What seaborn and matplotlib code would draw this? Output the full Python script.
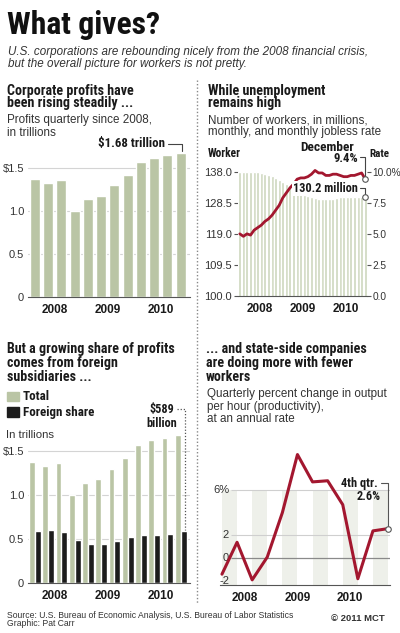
import matplotlib
matplotlib.use("Agg")
import matplotlib.pyplot as plt
from matplotlib.lines import Line2D
from matplotlib.patches import Rectangle
import seaborn as sns
import numpy as np
import pandas as pd

# ---- data ----
quarters = [f"{y}Q{q}" for y in (2008, 2009, 2010) for q in (1, 2, 3, 4)]
years = ["2008", "2009", "2010"]
total_profits = [1.38, 1.33, 1.36, 1.00, 1.14, 1.18, 1.30, 1.42, 1.57, 1.62, 1.65, 1.68]
foreign_profits = [0.59, 0.60, 0.58, 0.49, 0.44, 0.45, 0.48, 0.52, 0.55, 0.55, 0.56, 0.589]

months = [f"{y}-{m:02d}" for y in (2008, 2009, 2010) for m in range(1, 13)]
workers = [138.0, 138.0, 138.0, 138.0, 137.9, 137.8, 137.6, 137.4, 137.1, 136.7, 136.2, 135.6,
           134.9, 134.1, 133.3, 132.6, 132.0, 131.4, 131.0, 130.6, 130.3, 130.0, 129.8, 129.6,
           129.6, 129.7, 129.8, 130.0, 130.2, 130.2, 130.2, 130.2, 130.3, 130.3, 130.3, 130.2]
jobless_rate = [5.0, 4.8, 5.0, 4.9, 5.3, 5.5, 5.7, 6.0, 6.2, 6.5, 6.9, 7.3,
                7.9, 8.3, 8.7, 9.0, 9.4, 9.5, 9.5, 9.6, 9.8, 10.1, 9.9, 9.9,
                9.7, 9.7, 9.8, 9.8, 9.7, 9.6, 9.6, 9.7, 9.7, 9.8, 9.9, 9.4]
worker_ticks = [100, 109.5, 119, 128.5, 138]
worker_labels = ["100.0", "109.5", "119.0", "128.5", "138.0"]
rate_ticks = [0, 2.5, 5, 7.5, 10]
rate_labels = ["0.0", "2.5", "5.0", "7.5", "10.0%"]

productivity = [-1.4, 1.4, -1.9, 0.1, 4.0, 9.1, 6.7, 6.8, 4.7, -1.8, 2.4, 2.6]
prod_ticks = [6, 2, 0, -2]
prod_labels = ["6%", "2", "0", "-2"]
profit_ticks = [0, 0.5, 1.0, 1.5]
profit_labels = ["0", "0.5", "1.0", "$1.5"]

GREEN = "#bac5a5"
LIGHTGREEN = "#cdd6bd"
BLACK = "#1c1c1c"
RED = "#a3172f"
STRIPE = "#eef0ea"
TXT = "#1a1a1a"
TICK = "#333333"

sns.set_style("white")
COND = ["Roboto Condensed", "Liberation Sans", "DejaVu Sans"]
REG = ["Liberation Sans", "DejaVu Sans"]
plt.rcParams["font.family"] = REG

W, H = 400, 633
fig = plt.figure(figsize=(W / 100, H / 100), dpi=100)


def add_ax(x0, y0, x1, y1):
    return fig.add_axes([x0 / W, 1 - y1 / H, (x1 - x0) / W, (y1 - y0) / H])


def ftext(x, y, s, size, bold=False, cond=False, italic=False, ha="left", color=TXT, **kw):
    weight = kw.pop("weight", "bold" if bold else "normal")
    return fig.text(x / W, 1 - y / H, s, fontsize=size, fontweight=weight,
                    style="italic" if italic else "normal",
                    family=COND if cond else REG, ha=ha, va="baseline", color=color, **kw)


def year_axis(ax, seps, centers):
    ax.set_xticks(seps, labels=[])
    ax.set_xticks(centers, labels=years, minor=True)
    ax.tick_params(axis="x", which="major", length=4, width=0.8, color="#444", direction="out")
    ax.tick_params(axis="x", which="minor", length=0, pad=5)
    for t in ax.get_xticklabels(minor=True):
        t.set_fontweight("bold")
        t.set_fontsize(8.5)
        t.set_color(TXT)
    ax.set_xlabel("")
    ax.set_ylabel("")


def clean(ax):
    for s in ("top", "right", "left"):
        ax.spines[s].set_visible(False)
    ax.spines["bottom"].set_color("#555")
    ax.spines["bottom"].set_linewidth(0.8)


# ---- header ----
ftext(7, 34, "What gives?", 22.8, cond=True, color="#111", weight="black")
ftext(8, 55, "U.S. corporations are rebounding nicely from the 2008 financial crisis,", 8.4, italic=True, color="#333")
ftext(8, 66.5, "but the overall picture for workers is not pretty.", 8.4, italic=True, color="#333")

# ---- top left: corporate profits ----
ftext(7, 94.5, "Corporate profits have", 10.1, bold=True, cond=True)
ftext(7, 107.5, "been rising steadily ...", 10.1, bold=True, cond=True)
ftext(7, 123.5, "Profits quarterly since 2008,", 8.4, color="#333")
ftext(7, 135.5, "in trillions", 8.4, color="#333")

ax1 = add_ax(28.3, 142.6, 190, 296.7)
sns.barplot(x=quarters, y=total_profits, color=GREEN, saturation=1, width=0.75, ax=ax1, zorder=2)
ax1.set_ylim(0, 1.8)
ax1.set_xlim(-0.5, 11.7)
ax1.set_yticks(profit_ticks, labels=profit_labels)
ax1.tick_params(axis="y", length=0, pad=3, labelsize=8, labelcolor=TICK)
ax1.yaxis.grid(True, color="#d4d4d4", lw=0.8)
ax1.set_axisbelow(True)
clean(ax1)
year_axis(ax1, [3.5, 7.5], [1.5, 5.5, 9.5])
n = len(total_profits) - 1
ax1.plot([n - 0.95, n + 0.1, n + 0.1], [total_profits[-1] + 0.105] * 2 + [total_profits[-1] + 0.02],
         color="#444", lw=0.8, clip_on=False)
ftext(165, 146.5, "$1.68 trillion", 9.3, bold=True, cond=True, ha="right")

# ---- top right: unemployment ----
ftext(208, 94.5, "While unemployment", 10.1, bold=True, cond=True)
ftext(208, 107.5, "remains high", 10.1, bold=True, cond=True)
ftext(208, 123.5, "Number of workers, in millions,", 8.4, color="#333")
ftext(208, 135.5, "monthly, and monthly jobless rate", 8.4, color="#333")
ftext(208, 157, "Worker", 8.3, bold=True, cond=True)
ftext(369, 157, "Rate", 8, bold=True, cond=True)

ax2 = add_ax(238, 171.7, 367, 296)
sns.barplot(x=months, y=workers, color=LIGHTGREEN, saturation=1, width=0.85, ax=ax2)
ax2.set_ylim(100, 138)
ax2.set_yticks(worker_ticks, labels=worker_labels)
ax2.tick_params(axis="y", length=3, width=0.8, color="#555", pad=1.5, labelsize=8, labelcolor=TICK)
clean(ax2)
year_axis(ax2, [11.5, 23.5], [5.5, 17.5, 29.5])
ax2.set_xlim(-0.5, 35.5)

ax2r = ax2.twinx()
sns.lineplot(x=np.arange(len(jobless_rate)), y=jobless_rate, color=RED, lw=2, ax=ax2r)
ax2r.lines[0].set_clip_on(False)
ax2r.set_ylim(0, 10)
ax2r.set_yticks(rate_ticks, labels=rate_labels)
ax2r.tick_params(axis="y", length=3, width=0.8, color="#555", pad=1, labelsize=7.3, labelcolor=TICK)
for s in ("top", "left", "right", "bottom"):
    ax2r.spines[s].set_visible(False)
ax2r.set_ylabel("")
ax2.set_xlim(-0.5, 35.5)

m = len(workers) - 1
ax2.plot([m - 1.5, m, m], [workers[-1] + 2.8] * 2 + [workers[-1] + 0.8], color="#444", lw=0.8, clip_on=False)
ax2.scatter([m], [workers[-1]], s=16, facecolor="white", edgecolor="#555", lw=0.8, zorder=5, clip_on=False)
ax2r.plot([m - 1.5, m, m], [jobless_rate[-1] + 1.75] * 2 + [jobless_rate[-1] + 0.25], color="#444", lw=0.8, clip_on=False)
ax2r.scatter([m], [jobless_rate[-1]], s=16, facecolor="white", edgecolor="#555", lw=0.8, zorder=5, clip_on=False)
ftext(327, 151, "December", 9.6, bold=True, cond=True, ha="center")
ftext(358, 162.5, "9.4%", 9.2, bold=True, cond=True, ha="right")
ftext(358, 192, "130.2 million", 8.8, bold=True, cond=True, ha="right",
      bbox=dict(boxstyle="square,pad=0.12", fc="white", ec="none"))

# ---- bottom left: foreign share ----
ftext(7, 353.5, "But a growing share of profits", 10.1, bold=True, cond=True)
ftext(7, 367, "comes from foreign", 10.1, bold=True, cond=True)
ftext(7, 381, "subsidiaries ...", 10.1, bold=True, cond=True)
fig.add_artist(Rectangle((6.7 / W, 1 - 401 / H), 12 / W, 9 / H, color=GREEN, transform=fig.transFigure))
fig.add_artist(Rectangle((6.7 / W, 1 - 416.7 / H), 12 / W, 9.5 / H, color=BLACK, transform=fig.transFigure))
ftext(23, 400, "Total", 9.4, bold=True, cond=True)
ftext(23, 415.7, "Foreign share", 9.4, bold=True, cond=True)
ftext(6, 437.7, "In trillions", 8.2, color="#333")

df = pd.DataFrame({
    "quarter": quarters * 2,
    "value": total_profits + foreign_profits,
    "series": ["Total"] * len(quarters) + ["Foreign share"] * len(quarters),
})
ax3 = add_ax(28.3, 424.5, 190, 583.3)
sns.barplot(data=df, x="quarter", y="value", hue="series", palette=[GREEN, BLACK],
            saturation=1, width=0.88, legend=False, ax=ax3, zorder=2)
ax3.set_ylim(0, 1.8)
ax3.set_xlim(-0.5, 11.7)
ax3.set_yticks(profit_ticks, labels=profit_labels)
ax3.tick_params(axis="y", length=0, pad=3, labelsize=8, labelcolor=TICK)
ax3.yaxis.grid(True, color="#d4d4d4", lw=0.8)
ax3.set_axisbelow(True)
clean(ax3)
year_axis(ax3, [3.5, 7.5], [1.5, 5.5, 9.5])
k = len(foreign_profits) - 1
ax3.plot([k - 0.28, k + 0.3, k + 0.3], [foreign_profits[-1] + 1.39] * 2 + [foreign_profits[-1] + 0.01],
         color="#555", lw=0.9, ls=(0, (1, 1.5)), clip_on=False)
ftext(162, 413.5, "$589", 8.8, bold=True, cond=True, ha="center")
ftext(162, 427, "billion", 8.8, bold=True, cond=True, ha="center")

# ---- bottom right: productivity ----
ftext(206, 353.5, "... and state-side companies", 10.1, bold=True, cond=True)
ftext(206, 367, "are doing more with fewer", 10.1, bold=True, cond=True)
ftext(206, 381, "workers", 10.1, bold=True, cond=True)
ftext(207, 397.5, "Quarterly percent change in output", 8.4, color="#333")
ftext(207, 410, "per hour (productivity),", 8.4, color="#333")
ftext(207, 422.5, "at an annual rate", 8.4, color="#333")

ax4 = add_ax(220, 450, 390, 585)
ax4.set_xlim(-0.13, 11.13)
ax4.set_ylim(-2.35, 9.5)
for i in range(0, len(productivity) - 1, 2):
    ax4.fill_between([i, i + 1], -2.35, 6, color=STRIPE, lw=0, zorder=0)
ax4.hlines([6, 2], 0.6, 11.13, color="#cfcfcf", lw=0.8, zorder=1)
ax4.hlines([0], 0.6, 11.13, color="#8a8a8a", lw=0.9, zorder=1)
for v, lab in zip(prod_ticks, prod_labels):
    ax4.text(0.47, v, lab, ha="right", va="center", fontsize=8, color=TICK)
sns.lineplot(x=np.arange(len(productivity)), y=productivity, color=RED, lw=2.2, ax=ax4, zorder=3)
ax4.lines[-1].set_clip_on(False)
p = len(productivity) - 1
ax4.plot([p - 0.46, p, p], [productivity[-1] + 4.0] * 2 + [productivity[-1] + 0.25], color="#555", lw=0.8, clip_on=False)
ax4.scatter([p], [productivity[-1]], s=16, facecolor="white", edgecolor="#555", lw=0.8, zorder=5, clip_on=False)
ax4.set_yticks([])
clean(ax4)
year_axis(ax4, [3, 7], [1.5, 5, 8.5])
ftext(378, 487, "4th qtr.", 8.9, bold=True, cond=True, ha="right")
ftext(381, 500, "2.6%", 8.9, bold=True, cond=True, ha="right")

# ---- separator + footer ----
fig.add_artist(Line2D([197 / W, 197 / W], [1 - 80 / H, 1 - 603 / H], color="#888", lw=1,
                      ls=(0, (1, 1.5)), transform=fig.transFigure))
ftext(7, 617.5, "Source: U.S. Bureau of Economic Analysis, U.S. Bureau of Labor Statistics", 6.2, color="#333")
ftext(7, 625.5, "Graphic: Pat Carr", 6.2, color="#333")
ftext(385, 621, "\u00a9 2011 MCT", 6.8, bold=True, ha="right", color="#333")

fig.savefig("out.png", dpi=100)
